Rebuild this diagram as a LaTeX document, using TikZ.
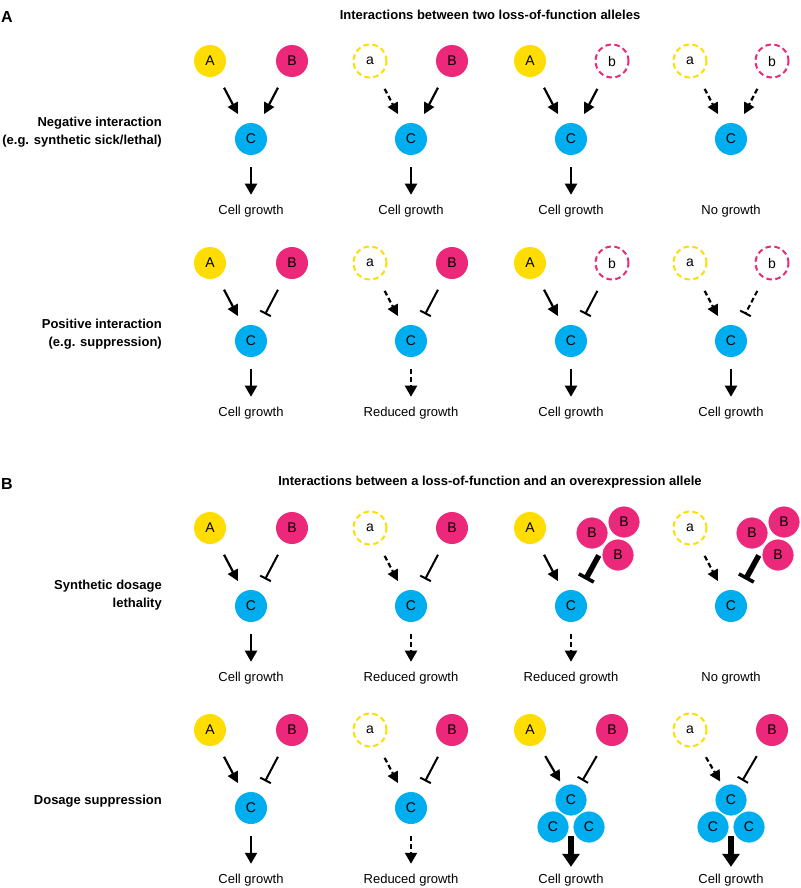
\documentclass[tikz,border=0pt]{standalone}
\usepackage{fontspec}
\setmainfont{Liberation Sans}
\usetikzlibrary{arrows.meta,calc}
\definecolor{geneyellow}{RGB}{255,221,0}
\definecolor{genepink}{RGB}{236,40,122}
\definecolor{genecyan}{RGB}{0,174,239}

\begin{document}
\begin{tikzpicture}[x=1pt,y=-1pt]
  \tikzset{
    gene/.style={circle, minimum size=32pt, inner sep=0pt, font=\fontsize{14}{16}\selectfont},
    geneA/.style={gene, fill=geneyellow},
    geneB/.style={gene, fill=genepink},
    geneC/.style={gene, fill=genecyan},
    lossA/.style={gene, minimum size=33pt, fill=white, draw=geneyellow, line width=2pt, dash pattern=on 5.5pt off 3.5pt},
    lossB/.style={gene, minimum size=33pt, fill=white, draw=genepink, line width=2pt, dash pattern=on 5.5pt off 3.5pt},
    rim/.style={draw=white, line width=0.8pt},
    act/.style={line width=2.2pt, -{Triangle[length=11pt,width=11pt]}, shorten <=14pt, shorten >=12pt},
    inh/.style={line width=2pt, -{Bar[width=12pt]}, shorten <=14pt, shorten >=14pt},
    weak/.style={dash pattern=on 5pt off 3pt},
    outarrow/.style={line width=2.2pt, -{Triangle[length=11pt,width=12pt]}, shorten <=12pt, shorten >=10pt},
    bigout/.style={line width=5.5pt, -{Triangle[length=13pt,width=17pt]}, shorten <=9pt, shorten >=7pt},
    biginh/.style={line width=5.5pt, -{Bar[width=17pt,line width=3.5pt]}, shorten <=13pt, shorten >=14pt},
    growth/.style={inner sep=0pt, font=\fontsize{13}{15}\selectfont},
    rowlabel/.style={anchor=east, align=right, inner sep=0pt, font=\fontsize{13}{18}\selectfont\bfseries},
    heading/.style={inner sep=0pt, font=\fontsize{13}{15}\selectfont\bfseries},
    panel/.style={anchor=west, inner sep=0pt, font=\fontsize{16}{18}\selectfont\bfseries}
  }
  \useasboundingbox (0,0) rectangle (800,888);

  % titles
  \node[panel] (pA) at (1,17) {A};
  \node[heading] (tA) at (490,15) {Interactions between two loss-of-function alleles};
  \node[panel] (pB) at (1,484) {B};
  \node[heading] (tB) at (490,482) {Interactions between a loss-of-function and an overexpression allele};

  % row labels
  \node[rowlabel] (row1) at (162,132) {Negative interaction\\(e.g. synthetic sick/lethal)};
  \node[rowlabel] (row2) at (162,334) {Positive interaction\\(e.g. suppression)};
  \node[rowlabel] (row3) at (162,595) {Synthetic dosage\\lethality};
  \node[rowlabel] (row4) at (162,801) {Dosage suppression};

  % row 1
  \node[geneA] (l11) at (210,61) {A};
  \node[geneB] (r11) at (292,61) {B};
  \node[geneC] (c11) at (251,139) {C};
  \node[growth] (g11) at (251,211) {Cell growth};
  \draw[act] (l11) -- (c11);
  \draw[act] (r11) -- (c11);
  \draw[outarrow] (c11) -- (g11);

  \node[lossA] (l12) at (370,61) {a};
  \node[geneB] (r12) at (452,61) {B};
  \node[geneC] (c12) at (411,139) {C};
  \node[growth] (g12) at (411,211) {Cell growth};
  \draw[act,weak] (l12) -- (c12);
  \draw[act] (r12) -- (c12);
  \draw[outarrow] (c12) -- (g12);

  \node[geneA] (l13) at (530,61) {A};
  \node[lossB] (r13) at (612,61) {b};
  \node[geneC] (c13) at (571,139) {C};
  \node[growth] (g13) at (571,211) {Cell growth};
  \draw[act] (l13) -- (c13);
  \draw[act] (r13) -- (c13);
  \draw[outarrow] (c13) -- (g13);

  \node[lossA] (l14) at (690,61) {a};
  \node[lossB] (r14) at (772,61) {b};
  \node[geneC] (c14) at (731,139) {C};
  \node[growth] (g14) at (731,211) {No growth};
  \draw[act,weak] (l14) -- (c14);
  \draw[act,weak] (r14) -- (c14);

  % row 2
  \node[geneA] (l21) at (210,263) {A};
  \node[geneB] (r21) at (292,263) {B};
  \node[geneC] (c21) at (251,341) {C};
  \node[growth] (g21) at (251,413) {Cell growth};
  \draw[act] (l21) -- (c21);
  \draw[inh] (r21) -- (c21);
  \draw[outarrow] (c21) -- (g21);

  \node[lossA] (l22) at (370,263) {a};
  \node[geneB] (r22) at (452,263) {B};
  \node[geneC] (c22) at (411,341) {C};
  \node[growth] (g22) at (411,413) {Reduced growth};
  \draw[act,weak] (l22) -- (c22);
  \draw[inh] (r22) -- (c22);
  \draw[outarrow,weak] (c22) -- (g22);

  \node[geneA] (l23) at (530,263) {A};
  \node[lossB] (r23) at (612,263) {b};
  \node[geneC] (c23) at (571,341) {C};
  \node[growth] (g23) at (571,413) {Cell growth};
  \draw[act] (l23) -- (c23);
  \draw[inh] (r23) -- (c23);
  \draw[outarrow] (c23) -- (g23);

  \node[lossA] (l24) at (690,263) {a};
  \node[lossB] (r24) at (772,263) {b};
  \node[geneC] (c24) at (731,341) {C};
  \node[growth] (g24) at (731,413) {Cell growth};
  \draw[act,weak] (l24) -- (c24);
  \draw[inh,weak] (r24) -- (c24);
  \draw[outarrow] (c24) -- (g24);

  % row 3
  \node[geneA] (l31) at (210,528) {A};
  \node[geneB] (r31) at (292,528) {B};
  \node[geneC] (c31) at (251,606) {C};
  \node[growth] (g31) at (251,678) {Cell growth};
  \draw[act] (l31) -- (c31);
  \draw[inh] (r31) -- (c31);
  \draw[outarrow] (c31) -- (g31);

  \node[lossA] (l32) at (370,528) {a};
  \node[geneB] (r32) at (452,528) {B};
  \node[geneC] (c32) at (411,606) {C};
  \node[growth] (g32) at (411,678) {Reduced growth};
  \draw[act,weak] (l32) -- (c32);
  \draw[inh] (r32) -- (c32);
  \draw[outarrow,weak] (c32) -- (g32);

  \node[geneA] (l33) at (530,528) {A};
  \node[geneB,rim] (r33a) at (592,533) {B};
  \node[geneB,rim] (r33b) at (624,522) {B};
  \node[geneB,rim] (r33c) at (618,555) {B};
  \node[geneC] (c33) at (571,606) {C};
  \node[growth] (g33) at (571,678) {Reduced growth};
  \draw[act] (l33) -- (c33);
  \draw[biginh] ($(r33a)!0.5!(r33c)$) -- (c33);
  \draw[outarrow,weak] (c33) -- (g33);

  \node[lossA] (l34) at (690,528) {a};
  \node[geneB,rim] (r34a) at (752,533) {B};
  \node[geneB,rim] (r34b) at (784,522) {B};
  \node[geneB,rim] (r34c) at (778,555) {B};
  \node[geneC] (c34) at (731,606) {C};
  \node[growth] (g34) at (731,678) {No growth};
  \draw[act,weak] (l34) -- (c34);
  \draw[biginh] ($(r34a)!0.5!(r34c)$) -- (c34);

  % row 4
  \node[geneA] (l41) at (210,730) {A};
  \node[geneB] (r41) at (292,730) {B};
  \node[geneC] (c41) at (251,808) {C};
  \node[growth] (g41) at (251,880) {Cell growth};
  \draw[act] (l41) -- (c41);
  \draw[inh] (r41) -- (c41);
  \draw[outarrow] (c41) -- (g41);

  \node[lossA] (l42) at (370,730) {a};
  \node[geneB] (r42) at (452,730) {B};
  \node[geneC] (c42) at (411,808) {C};
  \node[growth] (g42) at (411,880) {Reduced growth};
  \draw[act,weak] (l42) -- (c42);
  \draw[inh] (r42) -- (c42);
  \draw[outarrow,weak] (c42) -- (g42);

  \node[geneA] (l43) at (530,730) {A};
  \node[geneB] (r43) at (612,730) {B};
  \node[geneC,rim] (c43b) at (553,827) {C};
  \node[geneC,rim] (c43c) at (589,827) {C};
  \node[geneC,rim] (c43a) at (571,800) {C};
  \node[growth] (g43) at (571,880) {Cell growth};
  \draw[act,shorten >=5pt] (l43) -- (c43a);
  \draw[inh,shorten >=6pt] (r43) -- (c43a);
  \draw[bigout] ($(c43b)!0.5!(c43c)$) -- (g43);

  \node[lossA] (l44) at (690,730) {a};
  \node[geneB] (r44) at (772,730) {B};
  \node[geneC,rim] (c44b) at (713,827) {C};
  \node[geneC,rim] (c44c) at (749,827) {C};
  \node[geneC,rim] (c44a) at (731,800) {C};
  \node[growth] (g44) at (731,880) {Cell growth};
  \draw[act,weak,shorten >=5pt] (l44) -- (c44a);
  \draw[inh,shorten >=6pt] (r44) -- (c44a);
  \draw[bigout] ($(c44b)!0.5!(c44c)$) -- (g44);
\end{tikzpicture}
\end{document}
